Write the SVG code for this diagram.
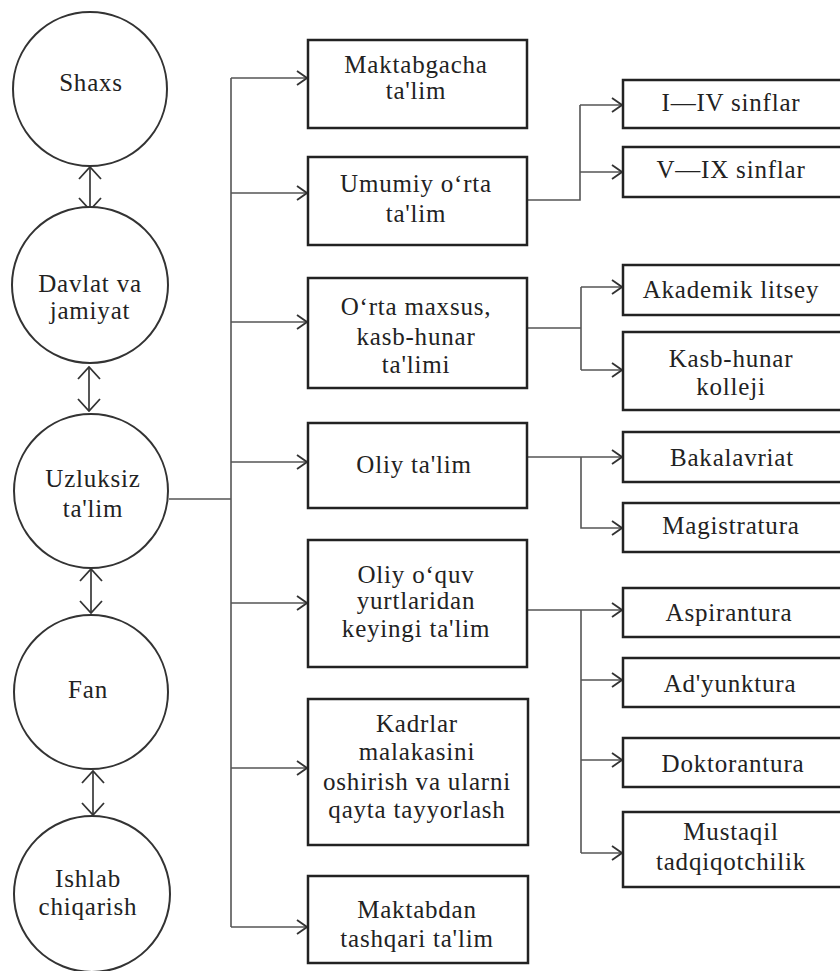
<svg xmlns="http://www.w3.org/2000/svg" width="840" height="971" viewBox="0 0 840 971">
<style>
  .bg{fill:#fff}
  .circ{fill:#fff;stroke:#333;stroke-width:2}
  .box{fill:#fff;stroke:#222;stroke-width:2.5}
  .t{font-family:"Liberation Serif","Times New Roman",serif;font-size:25px;fill:#222;text-anchor:middle;letter-spacing:0.8px}
  .ln{fill:none;stroke:#555;stroke-width:1.6}
  .arr{fill:none;stroke:#444;stroke-width:1.8}
</style>
<defs>
  <marker id="ah" viewBox="0 0 12 16" refX="11" refY="8" markerWidth="12" markerHeight="16" markerUnits="userSpaceOnUse" orient="auto">
    <path d="M1,1 L11,8 L1,15" fill="none" stroke="#333" stroke-width="1.8"/>
  </marker>
  <marker id="dh" viewBox="0 0 14 24" refX="13" refY="12" markerWidth="14" markerHeight="24" markerUnits="userSpaceOnUse" orient="auto-start-reverse">
    <path d="M1,1 L13,12 L1,23" fill="none" stroke="#333" stroke-width="1.8"/>
  </marker>
</defs>
<rect class="bg" x="0" y="0" width="840" height="971"/>

<g id="connectors">
  <line class="arr" x1="90" y1="167" x2="90" y2="210" marker-start="url(#dh)" marker-end="url(#dh)"/>
  <line class="arr" x1="89" y1="367" x2="89" y2="411" marker-start="url(#dh)" marker-end="url(#dh)"/>
  <line class="arr" x1="91" y1="569" x2="91" y2="613" marker-start="url(#dh)" marker-end="url(#dh)"/>
  <line class="arr" x1="93" y1="771" x2="93" y2="815" marker-start="url(#dh)" marker-end="url(#dh)"/>
  <line class="ln" x1="169" y1="499" x2="231" y2="499"/>
  <line class="ln" x1="231" y1="78" x2="231" y2="927"/>
  <line class="ln" x1="231" y1="78" x2="307" y2="78" marker-end="url(#ah)"/>
  <line class="ln" x1="231" y1="193" x2="307" y2="193" marker-end="url(#ah)"/>
  <line class="ln" x1="231" y1="322" x2="307" y2="322" marker-end="url(#ah)"/>
  <line class="ln" x1="231" y1="462" x2="307" y2="462" marker-end="url(#ah)"/>
  <line class="ln" x1="231" y1="603" x2="307" y2="603" marker-end="url(#ah)"/>
  <line class="ln" x1="231" y1="768" x2="307" y2="768" marker-end="url(#ah)"/>
  <line class="ln" x1="231" y1="927" x2="307" y2="927" marker-end="url(#ah)"/>
  <polyline class="ln" points="527,200 580,200 580,105"/>
  <line class="ln" x1="580" y1="105" x2="622" y2="105" marker-end="url(#ah)"/>
  <line class="ln" x1="580" y1="172" x2="622" y2="172" marker-end="url(#ah)"/>
  <line class="ln" x1="527" y1="328" x2="581" y2="328"/>
  <line class="ln" x1="581" y1="287" x2="581" y2="370"/>
  <line class="ln" x1="581" y1="287" x2="622" y2="287" marker-end="url(#ah)"/>
  <line class="ln" x1="581" y1="370" x2="622" y2="370" marker-end="url(#ah)"/>
  <line class="ln" x1="527" y1="457" x2="622" y2="457" marker-end="url(#ah)"/>
  <polyline class="ln" points="581,457 581,528 622,528" marker-end="url(#ah)"/>
  <line class="ln" x1="527" y1="610" x2="622" y2="610" marker-end="url(#ah)"/>
  <line class="ln" x1="581" y1="610" x2="581" y2="853"/>
  <line class="ln" x1="581" y1="680" x2="622" y2="680" marker-end="url(#ah)"/>
  <line class="ln" x1="581" y1="760" x2="622" y2="760" marker-end="url(#ah)"/>
  <line class="ln" x1="581" y1="853" x2="622" y2="853" marker-end="url(#ah)"/>
</g>

<g id="shaxs"><circle class="circ" cx="90" cy="89" r="77"/><text class="t" x="91" y="91">Shaxs</text></g>
<g id="davlat"><circle class="circ" cx="90" cy="285" r="78"/><text class="t" x="90" y="292">Davlat va</text><text class="t" x="90" y="319">jamiyat</text></g>
<g id="uzluksiz"><circle class="circ" cx="91" cy="491" r="77"/><text class="t" x="93" y="487">Uzluksiz</text><text class="t" x="93" y="517">ta'lim</text></g>
<g id="fan"><circle class="circ" cx="91" cy="692" r="77"/><text class="t" x="88" y="698">Fan</text></g>
<g id="ishlab"><circle class="circ" cx="92" cy="894" r="78"/><text class="t" x="88" y="887">Ishlab</text><text class="t" x="88" y="915">chiqarish</text></g>

<g id="maktabgacha"><rect class="box" x="308" y="40" width="219" height="88"/><text class="t" x="416" y="73">Maktabgacha</text><text class="t" x="416" y="99">ta'lim</text></g>
<g id="umumiy"><rect class="box" x="308" y="157" width="219" height="88"/><text class="t" x="416" y="192">Umumiy o‘rta</text><text class="t" x="416" y="222">ta'lim</text></g>
<g id="ortamaxsus"><rect class="box" x="308" y="278" width="219" height="110"/><text class="t" x="416" y="315">O‘rta  maxsus,</text><text class="t" x="416" y="345">kasb-hunar</text><text class="t" x="416" y="373">ta'limi</text></g>
<g id="oliy"><rect class="box" x="308" y="423" width="219" height="85"/><text class="t" x="414" y="473">Oliy  ta'lim</text></g>
<g id="oliyoquv"><rect class="box" x="308" y="540" width="219" height="127"/><text class="t" x="416" y="583">Oliy  o‘quv</text><text class="t" x="416" y="609">yurtlaridan</text><text class="t" x="416" y="637">keyingi  ta'lim</text></g>
<g id="kadrlar"><rect class="box" x="308" y="699" width="220" height="146"/><text class="t" x="417" y="732">Kadrlar</text><text class="t" x="417" y="760">malakasini</text><text class="t" x="417" y="790">oshirish  va  ularni</text><text class="t" x="417" y="818">qayta tayyorlash</text></g>
<g id="maktabdan"><rect class="box" x="308" y="876" width="220" height="87"/><text class="t" x="417" y="918">Maktabdan</text><text class="t" x="417" y="947">tashqari  ta'lim</text></g>

<g id="sinf14"><rect class="box" x="623" y="80" width="230" height="48"/><text class="t" x="731" y="111">I—IV  sinflar</text></g>
<g id="sinf59"><rect class="box" x="623" y="147" width="230" height="50"/><text class="t" x="731" y="178">V—IX  sinflar</text></g>
<g id="akademik"><rect class="box" x="623" y="265" width="230" height="50"/><text class="t" x="731" y="298">Akademik  litsey</text></g>
<g id="kasb"><rect class="box" x="623" y="332" width="230" height="78"/><text class="t" x="731" y="367">Kasb-hunar</text><text class="t" x="731" y="395">kolleji</text></g>
<g id="bakalavriat"><rect class="box" x="623" y="432" width="230" height="50"/><text class="t" x="732" y="466">Bakalavriat</text></g>
<g id="magistratura"><rect class="box" x="623" y="503" width="230" height="49"/><text class="t" x="731" y="534">Magistratura</text></g>
<g id="aspirantura"><rect class="box" x="623" y="588" width="230" height="49"/><text class="t" x="729" y="621">Aspirantura</text></g>
<g id="adyunktura"><rect class="box" x="623" y="658" width="230" height="49"/><text class="t" x="730" y="692">Ad'yunktura</text></g>
<g id="doktorantura"><rect class="box" x="623" y="738" width="230" height="49"/><text class="t" x="733" y="772">Doktorantura</text></g>
<g id="mustaqil"><rect class="box" x="623" y="812" width="230" height="75"/><text class="t" x="731" y="840">Mustaqil</text><text class="t" x="731" y="870">tadqiqotchilik</text></g>
</svg>
